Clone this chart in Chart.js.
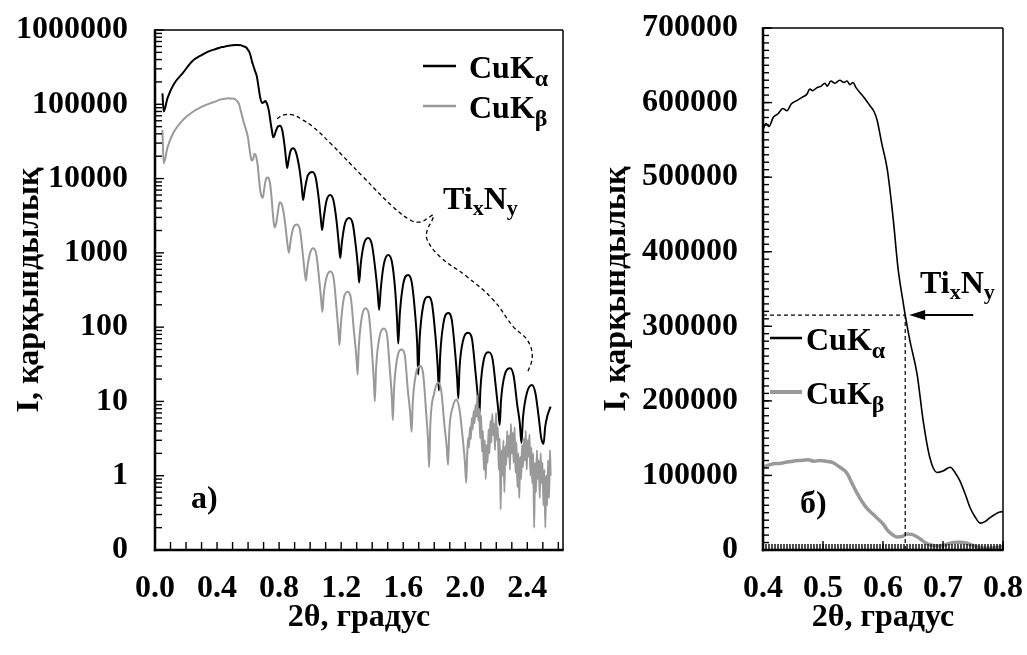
<!DOCTYPE html>
<html>
<head>
<meta charset="utf-8">
<script src="https://cdn.jsdelivr.net/npm/chart.js@4"></script>
<style>
  body { margin: 0; background: #fff; }
  #wrap { position: relative; width: 1027px; height: 655px; overflow: hidden; }
  canvas { position: absolute; top: 0; }
</style>
</head>
<body>
<div id="wrap">
  <canvas id="chartLeft" width="580" height="655" style="left:0"></canvas>
  <canvas id="chartRight" width="447" height="655" style="left:580px"></canvas>
</div>
<script>
// CuK-alpha reflectivity curve, [2theta, counts]
const cukAlpha = [
  [0.048,140000],[0.056,80000],[0.08,120000],[0.12,185000],[0.18,265000],[0.24,380000],[0.30,460000],[0.35,520000],
  [0.400,564000],[0.405,572000],[0.410,568000],[0.417,580000],[0.425,585000],[0.433,592000],[0.440,589000],[0.447,598000],
  [0.457,603000],[0.465,607000],[0.473,611000],[0.478,618000],[0.483,616000],[0.490,620000],[0.497,622000],[0.503,626000],
  [0.507,622000],[0.513,629000],[0.520,626000],[0.528,630000],[0.535,627000],[0.540,629000],[0.545,624000],[0.550,627000],
  [0.555,620000],[0.562,613000],[0.570,605000],[0.578,596000],[0.585,588000],[0.590,577000],[0.598,545000],[0.607,511000],
  [0.617,444000],[0.625,378000],[0.633,335000],[0.637,315000],[0.645,280000],[0.657,235000],[0.667,173000],[0.678,124000],
  [0.690,104000],[0.700,106000],[0.712,111000],[0.720,104000],[0.728,93000],[0.737,75000],[0.745,57000],[0.753,45000],
  [0.762,36000],[0.770,38000],[0.778,43000],[0.787,48000],[0.795,51000],[0.806,51500],
  [0.82,45000],[0.835,28000],[0.845,18000],[0.852,13900],[0.86,17000],[0.872,23000],[0.89,25500],[0.91,22000],
  [0.93,14000],[0.945,8000],[0.955,5150],[0.965,7000],[0.985,11000],[1.013,12300],[1.035,10500],[1.055,5500],
  [1.068,3000],[1.077,2030],[1.088,3000],[1.105,5000],[1.129,6000],[1.150,5100],[1.172,2500],[1.185,1300],
  [1.194,853],[1.205,1400],[1.225,2500],[1.252,2950],[1.275,2450],[1.295,1200],[1.308,650],[1.316,400],
  [1.326,700],[1.346,1300],[1.374,1585],[1.398,1300],[1.420,600],[1.435,300],[1.445,170],[1.455,320],
  [1.475,700],[1.503,937],[1.527,760],[1.548,320],[1.560,130],[1.568,60],[1.578,150],[1.600,380],
  [1.632,505],[1.655,400],[1.677,150],[1.690,60],[1.697,23],[1.706,70],[1.728,190],[1.762,257],
  [1.785,210],[1.808,75],[1.822,30],[1.830,14],[1.838,40],[1.860,115],[1.890,155],[1.913,125],
  [1.935,45],[1.948,20],[1.955,11],[1.963,28],[1.985,65],[2.020,84],[2.043,70],[2.065,26],
  [2.080,12],[2.090,6.2],[2.098,15],[2.120,37],[2.150,46],[2.175,38],[2.198,15],[2.212,8],
  [2.222,4.8],[2.230,10],[2.255,23],[2.290,28],[2.312,22],[2.335,9],[2.352,5],[2.362,2.75],
  [2.372,6],[2.397,13],[2.430,16.7],[2.452,13],[2.474,6],[2.490,3.2],[2.505,2.7],[2.515,4.5],
  [2.530,6.5],[2.550,8.5]
];

// CuK-beta reflectivity curve, [2theta, counts]
const cukBeta = [
  [0.048,45000],[0.056,16000],[0.08,26000],[0.12,42000],[0.18,61500],[0.24,78000],[0.30,92000],[0.35,102000],
  [0.400,111000],[0.410,114000],[0.420,116000],[0.428,116000],[0.440,118000],[0.450,119000],[0.462,120000],[0.475,121000],
  [0.485,119000],[0.495,120000],[0.505,119000],[0.517,117000],[0.528,111000],[0.540,103000],[0.548,90000],[0.557,76000],
  [0.565,65000],[0.573,56000],[0.582,49000],[0.590,43000],[0.600,35000],[0.607,27000],[0.615,21000],[0.623,17500],
  [0.632,18000],[0.640,21500],[0.648,21000],[0.655,18500],[0.662,15000],[0.670,10000],[0.678,7000],[0.686,5800],
  [0.695,5500],[0.705,7500],[0.717,10000],[0.728,10300],[0.740,9000],[0.750,6000],[0.762,3000],[0.770,2200],
  [0.783,2600],[0.790,3300],[0.804,4800],[0.820,4300],[0.838,2600],[0.852,1400],[0.863,1000],[0.875,1500],
  [0.893,2200],[0.915,2400],[0.935,2000],[0.950,1100],[0.963,600],[0.973,420],[0.983,650],[1.000,1000],
  [1.020,1150],[1.040,950],[1.058,450],[1.070,250],[1.079,160],[1.088,280],[1.107,480],[1.131,560],
  [1.152,450],[1.170,180],[1.182,90],[1.189,57],[1.198,110],[1.218,250],[1.242,300],[1.262,250],
  [1.282,90],[1.298,40],[1.306,23],[1.314,55],[1.334,140],[1.358,180],[1.378,150],[1.398,50],
  [1.410,20],[1.417,10],[1.425,28],[1.448,75],[1.475,96],[1.495,80],[1.515,25],[1.527,11],
  [1.533,5.6],[1.541,15],[1.563,40],[1.590,50],[1.610,42],[1.630,14],[1.645,7],[1.654,3.9],
  [1.662,10],[1.683,24],[1.708,30],[1.728,24],[1.748,7],[1.760,3],[1.767,1.3],[1.775,5],
  [1.800,13],[1.825,18],[1.845,14],[1.865,5],[1.880,2.5],[1.889,1.4],[1.897,4],[1.920,8.5],
  [1.943,10.5],[1.962,8],[1.985,3],[1.998,1.5],[2.006,0.8],
  [2.012,1.8],[2.018,3.2],[2.024,2.4],[2.030,4.5],[2.036,3.1],[2.042,6.0],[2.048,4.2],[2.054,7.5],
  [2.060,5.1],[2.066,9.0],[2.072,6.2],[2.078,12.0],[2.084,5.5],[2.090,8.0],[2.096,3.2],[2.102,6.5],
  [2.108,2.1],[2.114,4.0],[2.120,1.2],[2.126,3.0],[2.132,0.9],[2.138,2.6],[2.144,1.5],[2.150,4.2],
  [2.156,2.0],[2.162,5.5],[2.168,2.8],[2.174,6.8],[2.180,3.5],[2.186,5.0],[2.192,2.2],[2.198,7.0],
  [2.204,3.0],[2.210,4.5],[2.216,1.2],[2.222,3.2],[2.228,0.35],[2.234,2.2],[2.240,1.0],[2.246,3.0],
  [2.252,0.6],[2.258,2.5],[2.264,1.4],[2.270,4.0],[2.276,1.8],[2.282,3.5],[2.288,1.2],[2.294,5.0],
  [2.300,2.0],[2.306,3.8],[2.312,1.5],[2.318,4.5],[2.324,1.1],[2.330,2.8],[2.336,0.7],[2.342,2.0],
  [2.348,0.5],[2.354,1.8],[2.360,0.9],[2.366,2.6],[2.372,1.3],[2.378,3.2],[2.384,1.6],[2.390,4.0],
  [2.396,1.2],[2.402,3.0],[2.408,1.8],[2.414,3.6],[2.420,1.0],[2.426,2.4],[2.432,0.8],[2.438,2.0],
  [2.444,0.2],[2.450,1.5],[2.456,0.6],[2.462,2.2],[2.468,0.9],[2.474,1.6],[2.480,0.5],[2.486,2.0],
  [2.492,0.8],[2.498,1.5],[2.504,0.4],[2.510,1.2],[2.516,0.2],[2.522,1.0],[2.528,0.4],[2.534,1.6],
  [2.540,0.5],[2.546,2.2],[2.550,1.0]
];

// dashed brace marking the TixNy fringes (left panel), [2theta, counts]
const filmBrace = [
  [0.787,64000],[0.83,72000],[0.890,71800],[0.95,62000],[1.019,49500],[1.129,30100],[1.342,10500],[1.535,4150],
  [1.645,2770],[1.710,2600],[1.761,2950],[1.794,3240],[1.787,2770],[1.755,2030],[1.755,1490],[1.839,881],
  [2.013,474],[2.181,232],[2.310,101],[2.400,67],[2.432,40],[2.400,24]
];

// TixNy critical edge marker (right panel)
const edgeTheta = 0.637;
const edgeCounts = 315000;

// tick labels
const leftThetaTicks = [0, 0.4, 0.8, 1.2, 1.6, 2.0, 2.4];
const leftCountTicks = [0.1, 1, 10, 100, 1000, 10000, 100000, 1000000];
const rightThetaTicks = [0.4, 0.5, 0.6, 0.7, 0.8];
const rightCountTicks = [0, 100000, 200000, 300000, 400000, 500000, 600000, 700000];

const serif = "'Liberation Serif', 'Times New Roman', serif";
const bigFont = { family: serif, size: 32, weight: 'bold' };
const gray = '#999999';

const toPoints = arr => arr.map(p => ({ x: p[0], y: p[1] }));

// invisible tick marks only used to push the labels away from the axis
const hiddenGrid = { display: true, drawOnChartArea: false, drawTicks: true, tickLength: 17, tickColor: 'rgba(0,0,0,0)' };

// text with subscripts: parts = [text, size, dy]
function richText(ctx, x, y, parts) {
    let cx = x;
    ctx.textAlign = 'left';
    ctx.textBaseline = 'alphabetic';
    parts.forEach(([text, size, dy]) => {
        ctx.font = 'bold ' + size + 'px ' + serif;
        ctx.fillText(text, cx, y + dy);
        cx += ctx.measureText(text).width;
    });
}

function strokeLine(ctx, x1, y1, x2, y2) {
    ctx.beginPath();
    ctx.moveTo(x1, y1);
    ctx.lineTo(x2, y2);
    ctx.stroke();
}

// frame box and inward tick marks
function makeFrame(cfg) {
    return {
        id: 'frame',
        afterDraw(chart) {
            const { ctx, chartArea: a, scales: { x, y } } = chart;
            ctx.save();
            ctx.strokeStyle = '#000';
            ctx.lineWidth = 1.4;
            cfg.xMinor.forEach(v => { const p = x.getPixelForValue(v); strokeLine(ctx, p, a.bottom, p, a.bottom - cfg.xMinorLen); });
            cfg.xMajor.forEach(v => { const p = x.getPixelForValue(v); strokeLine(ctx, p, a.bottom, p, a.bottom - cfg.xMajorLen); });
            cfg.yMinor.forEach(v => { const p = y.getPixelForValue(v); strokeLine(ctx, a.left, p, a.left + cfg.yMinorLen, p); });
            cfg.yMajor.forEach(v => { const p = y.getPixelForValue(v); strokeLine(ctx, a.left, p, a.left + cfg.yMajorLen, p); });
            // top and right thin, left and bottom thick
            ctx.lineWidth = 1.5;
            strokeLine(ctx, a.left, a.top, a.right, a.top);
            strokeLine(ctx, a.right, a.top, a.right, a.bottom);
            ctx.lineWidth = 2.5;
            strokeLine(ctx, a.left, a.top - 0.7, a.left, a.bottom + 1.2);
            strokeLine(ctx, a.left - 1.2, a.bottom, a.right + 0.7, a.bottom);
            ctx.restore();
        }
    };
}

// tick positions
const leftXMinor = [];
for (let i = 0; i <= 26; i++) leftXMinor.push(i / 10);
const leftYMinor = [];
for (let d = -1; d < 6; d++) for (let k = 2; k <= 9; k++) leftYMinor.push(k * Math.pow(10, d));
const rightXMinor = [];
for (let i = 0; i <= 80; i++) rightXMinor.push(0.4 + i * 0.005);
const rightYMinor = [];
for (let i = 0; i <= 70; i++) rightYMinor.push(i * 10000);

const leftExtras = {
    id: 'leftExtras',
    afterDraw(chart) {
        const ctx = chart.ctx;
        ctx.save();
        ctx.fillStyle = '#000';
        // legend
        ctx.lineWidth = 2.5;
        ctx.strokeStyle = '#000';
        strokeLine(ctx, 423, 66, 456, 66);
        ctx.strokeStyle = gray;
        strokeLine(ctx, 423, 106, 456, 106);
        richText(ctx, 469, 78, [['CuK', 32, 0], ['α', 24, 8]]);
        richText(ctx, 469, 118, [['CuK', 32, 0], ['β', 24, 8]]);
        // labels
        richText(ctx, 191, 508, [['a)', 32, 0]]);
        richText(ctx, 443, 209, [['Ti', 32, 0], ['x', 22, 6], ['N', 32, 0], ['y', 22, 6]]);
        ctx.restore();
    }
};

const rightExtras = {
    id: 'rightExtras',
    afterDraw(chart) {
        const { ctx, chartArea: a, scales: { x, y } } = chart;
        const mx = x.getPixelForValue(edgeTheta);
        const my = y.getPixelForValue(edgeCounts);
        ctx.save();
        ctx.strokeStyle = '#000';
        ctx.fillStyle = '#000';
        ctx.lineWidth = 1.2;
        ctx.setLineDash([4, 3]);
        strokeLine(ctx, a.left, my, mx, my);
        strokeLine(ctx, mx, my, mx, a.bottom);
        ctx.setLineDash([]);
        // arrow
        ctx.lineWidth = 2;
        strokeLine(ctx, mx + 68, my, mx + 16, my);
        ctx.beginPath();
        ctx.moveTo(mx + 4, my);
        ctx.lineTo(mx + 20, my - 5);
        ctx.lineTo(mx + 20, my + 5);
        ctx.closePath();
        ctx.fill();
        richText(ctx, 340, 293, [['Ti', 32, 0], ['x', 22, 6], ['N', 32, 0], ['y', 22, 6]]);
        // legend
        ctx.lineWidth = 2.5;
        strokeLine(ctx, 190, 338, 222, 338);
        ctx.strokeStyle = gray;
        ctx.lineWidth = 4;
        strokeLine(ctx, 190, 392, 222, 392);
        richText(ctx, 226, 350, [['CuK', 32, 0], ['α', 24, 8]]);
        richText(ctx, 226, 404, [['CuK', 32, 0], ['β', 24, 8]]);
        richText(ctx, 220, 513, [['б)', 32, 0]]);
        ctx.restore();
    }
};

const leftChart = new Chart(document.getElementById('chartLeft').getContext('2d'), {
    type: 'line',
    data: {
        datasets: [
            { label: 'CuKβ', data: toPoints(cukBeta), borderColor: gray, borderWidth: 2, cubicInterpolationMode: 'monotone' },
            { label: 'CuKα', data: toPoints(cukAlpha), borderColor: '#000', borderWidth: 2, cubicInterpolationMode: 'monotone' },
            { label: 'TixNy', data: toPoints(filmBrace), borderColor: '#000', borderWidth: 1.3, borderDash: [4, 3], tension: 0.4 }
        ]
    },
    options: {
        responsive: false,
        animation: false,
        layout: { padding: { top: 30, right: 17, left: 0, bottom: 0 } },
        elements: { point: { radius: 0 } },
        plugins: { legend: { display: false }, tooltip: { enabled: false } },
        scales: {
            x: {
                type: 'linear', min: 0, max: 2.63,
                afterBuildTicks: s => { s.ticks = leftThetaTicks.map(v => ({ value: v })); },
                afterFit: s => { s.height = 105; },
                grid: hiddenGrid,
                border: { display: false },
                ticks: { color: '#000', font: bigFont, padding: 3, maxRotation: 0, autoSkip: false, callback: v => v.toFixed(1) },
                title: { display: true, text: '2θ, градус', color: '#000', font: bigFont, padding: { top: 0, bottom: 18 } }
            },
            y: {
                type: 'logarithmic', min: 0.1, max: 1000000,
                afterBuildTicks: s => { s.ticks = leftCountTicks.map(v => ({ value: v })); },
                afterFit: s => { s.width = 155; },
                grid: hiddenGrid,
                border: { display: false },
                ticks: { color: '#000', font: bigFont, padding: 10, autoSkip: false, callback: v => (v < 1 ? '0' : String(Math.round(v))) },
                title: { display: true, text: 'I, қарқындылық', color: '#000', font: bigFont, padding: { top: 11, bottom: 0 } }
            }
        }
    },
    plugins: [
        makeFrame({ xMinor: leftXMinor, xMajor: [], xMinorLen: 8, xMajorLen: 8, yMinor: leftYMinor, yMajor: leftCountTicks, yMinorLen: 7, yMajorLen: 9 }),
        leftExtras
    ]
});

const rightChart = new Chart(document.getElementById('chartRight').getContext('2d'), {
    type: 'line',
    data: {
        datasets: [
            { label: 'CuKβ', data: toPoints(cukBeta), borderColor: gray, borderWidth: 3.5, cubicInterpolationMode: 'monotone' },
            { label: 'CuKα', data: toPoints(cukAlpha), borderColor: '#000', borderWidth: 1.6, cubicInterpolationMode: 'monotone' }
        ]
    },
    options: {
        responsive: false,
        animation: false,
        layout: { padding: { top: 28, right: 24, left: 0, bottom: 0 } },
        elements: { point: { radius: 0 } },
        plugins: { legend: { display: false }, tooltip: { enabled: false } },
        scales: {
            x: {
                type: 'linear', min: 0.4, max: 0.8,
                afterBuildTicks: s => { s.ticks = rightThetaTicks.map(v => ({ value: v })); },
                afterFit: s => { s.height = 105; },
                grid: hiddenGrid,
                border: { display: false },
                ticks: { color: '#000', font: bigFont, padding: 3, maxRotation: 0, autoSkip: false, callback: v => v.toFixed(1) },
                title: { display: true, text: '2θ, градус', color: '#000', font: bigFont, padding: { top: 0, bottom: 18 } }
            },
            y: {
                type: 'linear', min: 0, max: 700000,
                afterBuildTicks: s => { s.ticks = rightCountTicks.map(v => ({ value: v })); },
                afterFit: s => { s.width = 183; },
                grid: hiddenGrid,
                border: { display: false },
                ticks: { color: '#000', font: bigFont, padding: 8, autoSkip: false, callback: v => String(v) },
                title: { display: true, text: 'I, қарқындылық', color: '#000', font: bigFont, padding: { top: 18, bottom: 0 } }
            }
        }
    },
    plugins: [
        makeFrame({ xMinor: rightXMinor, xMajor: rightThetaTicks, xMinorLen: 6, xMajorLen: 9, yMinor: rightYMinor, yMajor: rightCountTicks, yMinorLen: 6, yMajorLen: 9 }),
        rightExtras
    ]
});
</script>
</body>
</html>
